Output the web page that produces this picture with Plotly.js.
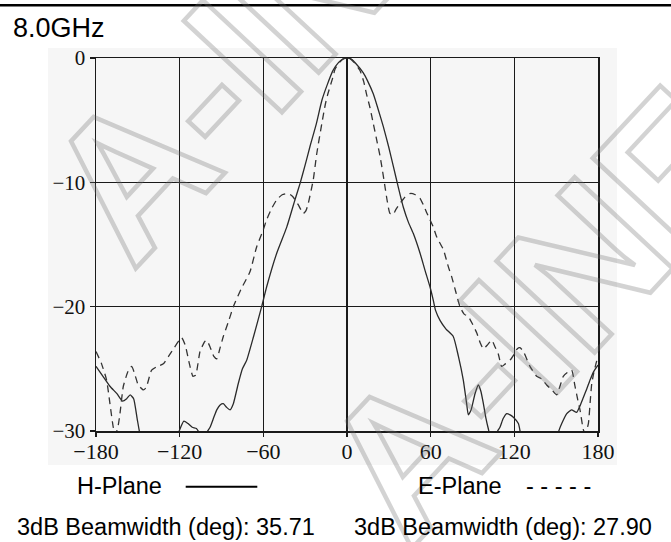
<!DOCTYPE html>
<html>
<head>
<meta charset="utf-8">
<script src="https://cdn.plot.ly/plotly-3.0.1.min.js"></script>
<style>
  html, body { margin: 0; padding: 0; background: #fff; }
  #chart { width: 671px; height: 542px; }
  .annotation[data-index="0"] text, .annotation[data-index="1"] text {
    stroke: rgba(110,110,110,0.3) !important; stroke-width: 4.5px !important;
  }
</style>
</head>
<body>
<div id="chart"></div>
<script>
// ---- Data ----
const hAngles = [-180,-175,-170,-165,-161,-158,-155.5,-153,-150.5,-148,-140,-130,-123,-120,-117,-114,-111,-108,-105.5,-103,-100.6,-98.2,-95.5,-93.4,-91,-88.7,-86.3,-83.9,-81.5,-78,-75,-71.9,-67,-61.2,-57.6,-50.4,-43.2,-37.3,-33.7,-30,-26.5,-22,-18,-14,-10,-6,-3,0,3,6,11.7,15,18.9,22,26,30,33.2,36.8,40.4,44,47.5,52.4,56,59.5,61.9,63.5,66.7,71,76.2,79.9,83.4,85.8,87,89,91.8,94.2,96,97.8,99.5,101.3,103,106,108,109.7,112,114.5,117,119.3,122.9,124.5,130,140,150,151.6,154,157.6,161,164.7,167,169.5,172,174.3,177,180];
const hPlane  = [-24.8,-25.6,-26.4,-27.0,-27.6,-27.4,-27.1,-27.4,-29.0,-30.5,-33,-33,-31,-29.9,-29.2,-29.4,-29.7,-29.8,-30.2,-30.4,-30.1,-29.7,-28.9,-28.3,-27.9,-27.8,-28.1,-28.3,-27.8,-26.2,-25.0,-24.3,-22.4,-20.0,-18.4,-15.7,-13.6,-11.4,-10.1,-8.6,-7.1,-5.3,-3.4,-2.1,-1.0,-0.35,-0.08,0,-0.08,-0.4,-1.2,-1.9,-2.9,-4.0,-5.5,-7.2,-8.7,-10.4,-12.0,-13.2,-14.1,-15.7,-17.1,-18.4,-19.5,-20.3,-21.1,-21.8,-22.4,-24.0,-25.9,-27.8,-28.7,-28.3,-27.0,-26.3,-26.8,-27.8,-28.9,-29.8,-30.5,-30.5,-30.0,-29.7,-29.0,-28.6,-28.7,-28.9,-29.4,-30.2,-32,-33,-31,-30.1,-29.4,-28.6,-28.3,-28.5,-28.0,-27.3,-26.6,-25.9,-25.2,-24.7];

const eAngles = [-180,-176,-172.4,-170,-167.6,-166,-164,-162.8,-160.4,-157,-154.4,-152,-149.7,-146,-144,-140.1,-136,-131.7,-128,-124.5,-118.6,-116,-113,-110.5,-108.5,-105.4,-102,-100.6,-98,-95.5,-93.4,-91,-88.7,-85,-81.5,-76,-69.6,-64.8,-60,-57.6,-54,-50.4,-46.5,-43.2,-40.5,-38.5,-35,-31.3,-29.5,-27.8,-24.2,-21.7,-18.1,-15.5,-14,-10,-8.6,-5,-2,0,2.2,5,9.3,12,14,16.5,18.9,21.5,23.7,25.5,27.3,29,30.8,33,35,38,41.5,45.2,49,52.4,54.7,57,59.5,61.9,64,66.7,69.1,72.7,75.1,78,81,84,87,90,93,95.5,97.8,100.5,103.8,106,108.5,110.9,113.5,116.9,120,122,124,126.5,131.2,136,139.5,143.2,147,150.4,153,155.1,158,161.1,163.5,165.5,167.1,169.5,171,173.1,174.5,175.5,177,179,180];
const ePlane  = [-23.6,-24.6,-25.9,-27.8,-29.7,-30.3,-29.5,-28.6,-26.4,-25.2,-24.8,-25.5,-26.3,-26.7,-26.5,-25.1,-24.8,-24.6,-24.0,-23.4,-22.5,-23.1,-24.6,-25.6,-25.5,-23.6,-22.8,-22.7,-23.3,-24.0,-24.2,-23.3,-22.4,-21.2,-20.0,-18.6,-17.2,-15.2,-13.8,-13.0,-12.1,-11.4,-11.0,-10.9,-11.0,-11.2,-11.8,-12.5,-12.3,-11.7,-9.8,-7.7,-5.3,-3.7,-3.0,-1.5,-0.9,-0.3,-0.03,0,-0.05,-0.35,-1.0,-1.9,-2.9,-4.0,-5.3,-6.7,-7.9,-9.1,-10.4,-11.6,-12.5,-12.6,-12.2,-11.7,-11.2,-10.9,-11.0,-11.3,-11.8,-12.4,-13.0,-13.6,-14.3,-14.9,-15.4,-16.8,-17.6,-18.8,-20.0,-20.6,-20.8,-21.4,-22.1,-22.9,-23.4,-23.1,-22.7,-23.2,-23.8,-24.8,-24.6,-24.3,-23.8,-23.4,-23.3,-23.6,-24.8,-25.6,-25.8,-26.3,-26.7,-27.1,-26.3,-25.6,-25.3,-25.1,-26.4,-27.5,-28.3,-29.9,-30.2,-29.4,-27.5,-26.2,-25.3,-24.4,-24.1];

const xTickVals = [-180,-120,-60,0,60,120,180];
const xTickText = ['\u2212180','\u2212120','\u221260','0','60','120','180'];
const yTickVals = [0,-10,-20,-30];
const yTickText = ['0','\u221210','\u221220','\u221230'];

const titleText = '8.0GHz';
const seriesNames = ['H-Plane','E-Plane'];
const beamwidths = ['35.71','27.90'];
const watermarkText = 'A-INFO';

// ---- Layout helpers (pixel -> paper) ----
const W = 671, H = 542, ML = 96, MR = 73, MT = 58, MB = 111;
const PW = W - ML - MR, PH = H - MT - MB;
const px = v => (v - ML) / PW;
const py = v => (H - MB - v) / PH;

const axisColor = '#1a1a1a';
const tickFont = {family: 'Liberation Serif, Times New Roman, serif', size: 22, color: '#111'};
const textFont = {family: 'Liberation Sans, Arial, sans-serif', size: 23.5, color: '#000'};

const traces = [
  {x: hAngles, y: hPlane, name: seriesNames[0], type: 'scatter', mode: 'lines',
   line: {color: '#2a2a2a', width: 1.3, shape: 'spline', smoothing: 0.5}, hoverinfo: 'skip'},
  {x: eAngles, y: ePlane, name: seriesNames[1], type: 'scatter', mode: 'lines',
   line: {color: '#333', width: 1.3, dash: '7px,5px', shape: 'spline', smoothing: 0.5}, hoverinfo: 'skip'}
];

const wmFont = {family: 'Liberation Sans, Arial, sans-serif', size: 195, color: 'rgba(0,0,0,0)', weight: 'bold'};

const layout = {
  width: W, height: H,
  margin: {l: ML, r: MR, t: MT, b: MB, pad: 0},
  paper_bgcolor: '#ffffff',
  plot_bgcolor: 'rgba(0,0,0,0)',
  showlegend: false,
  xaxis: {
    range: [-180, 180], tickvals: xTickVals, ticktext: xTickText,
    showgrid: true, gridcolor: axisColor, gridwidth: 1.4, zeroline: false,
    showline: true, linecolor: axisColor, linewidth: 1.5, mirror: true,
    ticks: 'outside', ticklen: 4, tickwidth: 1.4, tickcolor: axisColor,
    ticklabelstandoff: -4,
    tickfont: tickFont, fixedrange: true
  },
  yaxis: {
    range: [-30, 0], tickvals: yTickVals, ticktext: yTickText,
    showgrid: true, gridcolor: axisColor, gridwidth: 1.4, zeroline: false,
    showline: true, linecolor: axisColor, linewidth: 1.5, mirror: true,
    ticks: 'outside', ticklen: 5, tickwidth: 1.4, tickcolor: axisColor,
    tickfont: Object.assign({}, tickFont, {size: 21}), fixedrange: true
  },
  shapes: [
    {type: 'rect', xref: 'paper', yref: 'paper', layer: 'below',
     x0: px(48), x1: px(617), y0: py(465), y1: py(48),
     fillcolor: '#f6f6f6', line: {width: 0}},
    {type: 'line', xref: 'paper', yref: 'paper',
     x0: px(0), x1: px(W), y0: py(5.3), y1: py(5.3),
     line: {color: '#000', width: 2.5}},
    {type: 'line', xref: 'paper', yref: 'paper',
     x0: px(185.7), x1: px(257.3), y0: py(486.7), y1: py(486.7),
     line: {color: '#000', width: 2}}
  ],
  annotations: [
    {text: watermarkText, xref: 'paper', yref: 'paper', x: px(312), y: py(-20),
     xanchor: 'center', yanchor: 'middle', textangle: -47, showarrow: false, font: wmFont},
    {text: watermarkText, xref: 'paper', yref: 'paper', x: px(588), y: py(260),
     xanchor: 'center', yanchor: 'middle', textangle: -47, showarrow: false, font: wmFont},
    {text: titleText, xref: 'paper', yref: 'paper', x: px(11), y: py(27.8),
     xanchor: 'left', yanchor: 'middle', showarrow: false,
     font: Object.assign({}, textFont, {size: 27})},
    {text: seriesNames[0], xref: 'paper', yref: 'paper', x: px(75), y: py(486),
     xanchor: 'left', yanchor: 'middle', showarrow: false, font: textFont},
    {text: seriesNames[1], xref: 'paper', yref: 'paper', x: px(415.5), y: py(486),
     xanchor: 'left', yanchor: 'middle', showarrow: false, font: textFont},
    {text: '- - - - -', xref: 'paper', yref: 'paper', x: px(524), y: py(486),
     xanchor: 'left', yanchor: 'middle', showarrow: false, font: textFont},
    {text: '3dB Beamwidth (deg): ' + beamwidths[0], xref: 'paper', yref: 'paper', x: px(14.5), y: py(527.2),
     xanchor: 'left', yanchor: 'middle', showarrow: false, font: textFont},
    {text: '3dB Beamwidth (deg): ' + beamwidths[1], xref: 'paper', yref: 'paper', x: px(352), y: py(527.2),
     xanchor: 'left', yanchor: 'middle', showarrow: false, font: textFont}
  ]
};

Plotly.newPlot('chart', traces, layout, {displayModeBar: false, staticPlot: true});
</script>
</body>
</html>
